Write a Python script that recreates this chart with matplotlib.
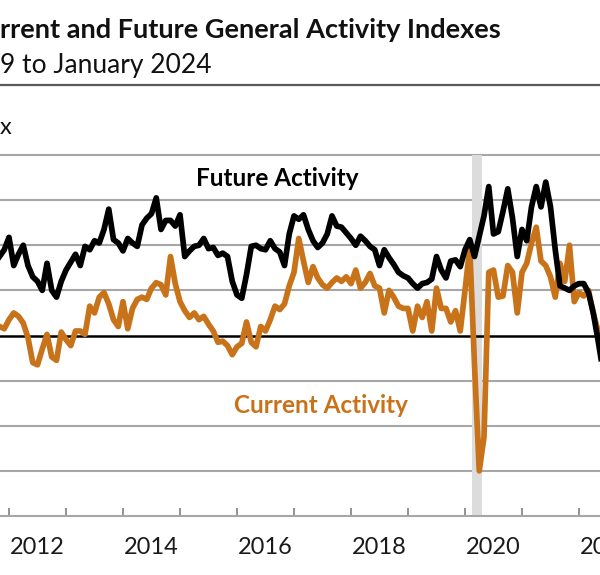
import numpy as np
import matplotlib.pyplot as plt
from matplotlib.ticker import FixedLocator, FixedFormatter, NullFormatter

plt.rcParams['font.family'] = ['Lato', 'DejaVu Sans']

# Monthly index values, November 2011 onward
future = [35, 38, 43.5, 31, 36, 40, 31, 26, 24, 20, 32, 20, 17, 24,
          29, 32.5, 36, 31, 39.5, 38, 42, 41, 47, 56, 42.5, 41,
          37.5, 43, 41, 39.5, 49, 52, 54, 61, 47, 51, 51, 48.5,
          53.5, 35, 37.5, 39.5, 40, 43, 38.5, 39, 35.5, 36.5, 35, 24,
          18, 16.5, 27, 39.5, 40, 38.5, 38, 42, 38.5, 37, 31, 45,
          53, 51.5, 53.5, 47, 42, 39, 41, 45, 53, 48.5, 48, 45.5,
          43, 40, 44, 42, 39.5, 38, 31, 38, 34.5, 31.5, 28, 26.5,
          25.5, 23, 21, 23, 23.5, 25, 35, 29, 25.5, 33, 33.5, 30.5,
          38, 42.5, 35, 44, 53, 66, 45, 46, 55, 65, 52, 35,
          47, 42, 57, 66, 57, 68, 57, 38, 22, 21, 20, 22,
          23, 23, 19, 10, -2, -15]
current = [4, 3, 7, 10, 8.5, 5.5, -1, -12, -13, -6, 0.5, -9.5, -11, 1.5,
           -1.8, -4.5, 2, 2, 0.5, 13, 10, 17, 19, 14, 7, 4,
           15, 3, 12, 16, 17, 16, 21, 23.4, 22.5, 18, 35, 23,
           15, 11, 8, 10, 7, 8.5, 5, 2, -3, -2.5, -4.5, -8.5,
           -5, -3.5, 6, -3, -5, 4, 2, 7, 13, 11.5, 14, 22,
           28, 43, 33, 23.5, 30.5, 25.5, 22.5, 21, 23.5, 25.5, 24, 26,
           23, 29, 21, 23.5, 27.5, 22, 21, 10, 20, 17, 13, 12,
           12, 2, 13, 8, 15, 2, 21, 12, 12, 6, 11, 2,
           20, 39, -13, -60, -45, 28, 29, 17, 17.5, 31, 28, 10,
           28, 32, 41, 48, 33, 31, 26, 17, 32, 24, 40, 15,
           19, 17.5, 20, 10, 2, -3]
start_year, start_month = 2011, 11
recession = (2020 + 1.5 / 12, 2020 + 3.5 / 12)  # Feb-Apr 2020

year_ticks = list(range(2010, 2025))
label_years = list(range(2010, 2025, 2))
grid_levels = [-60, -40, -20, 20, 40, 60, 80]

t = start_year + (start_month - 1 + np.arange(len(future))) / 12

orange = '#C8731A'
grid_col = '#A6A6A6'

fig = plt.figure(figsize=(6, 5.75), dpi=100)

# the visible window is a crop of a wider chart
xmin, xmax = 2011.5, 2023.0
px_left = 9 + 57 * (xmin - 2012)
px_right = 9 + 57 * (xmax - 2012)
ax = fig.add_axes([px_left / 600, 59 / 575, (px_right - px_left) / 600, 361 / 575])
ax.set_xlim(xmin, xmax)
ax.set_ylim(-80, 80)

for g in grid_levels:
    ax.axhline(g, color=grid_col, lw=1.5, zorder=1, clip_on=False)
ax.axvspan(recession[0], recession[1], color='#DCDCDC', lw=0, zorder=2)
ax.axhline(0, color='black', lw=1.8, zorder=3)

ax.plot(t, current, color=orange, lw=4.1, zorder=4, solid_joinstyle='round')
ax.plot(t, future, color='black', lw=4.1, zorder=5, solid_joinstyle='round')

ax.text(2016.70, 69.5, 'Future Activity', ha='center', va='center',
        fontsize=17.5, fontweight='bold', color='black')
ax.text(2017.48, -31, 'Current Activity', ha='center', va='center',
        fontsize=17.5, fontweight='bold', color=orange)

for side in ['left', 'right', 'top']:
    ax.spines[side].set_visible(False)
ax.spines['bottom'].set_color(grid_col)
ax.spines['bottom'].set_linewidth(1.5)
ax.set_yticks([])

ax.xaxis.set_major_locator(FixedLocator(year_ticks))
ax.xaxis.set_major_formatter(NullFormatter())
ax.xaxis.set_minor_locator(FixedLocator([y + 0.5 for y in label_years]))
ax.xaxis.set_minor_formatter(FixedFormatter([str(y) for y in label_years]))
ax.tick_params(axis='x', which='major', direction='in', length=6,
               width=1.2, color='#808080')
ax.tick_params(axis='x', which='minor', length=0, pad=15,
               labelsize=17, labelcolor='#1a1a1a')

fig.text(0.0, 1 - 30 / 575, 'rrent and Future General Activity Indexes',
         ha='left', va='center', fontsize=19.5, fontweight='bold', color='#111111')
fig.text(0.0, 1 - 66 / 575, '9 to January 2024',
         ha='left', va='center', fontsize=19, color='#111111')
fig.add_artist(plt.Line2D([0, 1], [1 - 85 / 575] * 2, transform=fig.transFigure,
                          color='#595959', lw=1.6))
fig.text(0.0, 1 - 127 / 575, 'x', ha='left', va='center', fontsize=17,
         color='#111111')

fig.savefig('out.png', dpi=100)
